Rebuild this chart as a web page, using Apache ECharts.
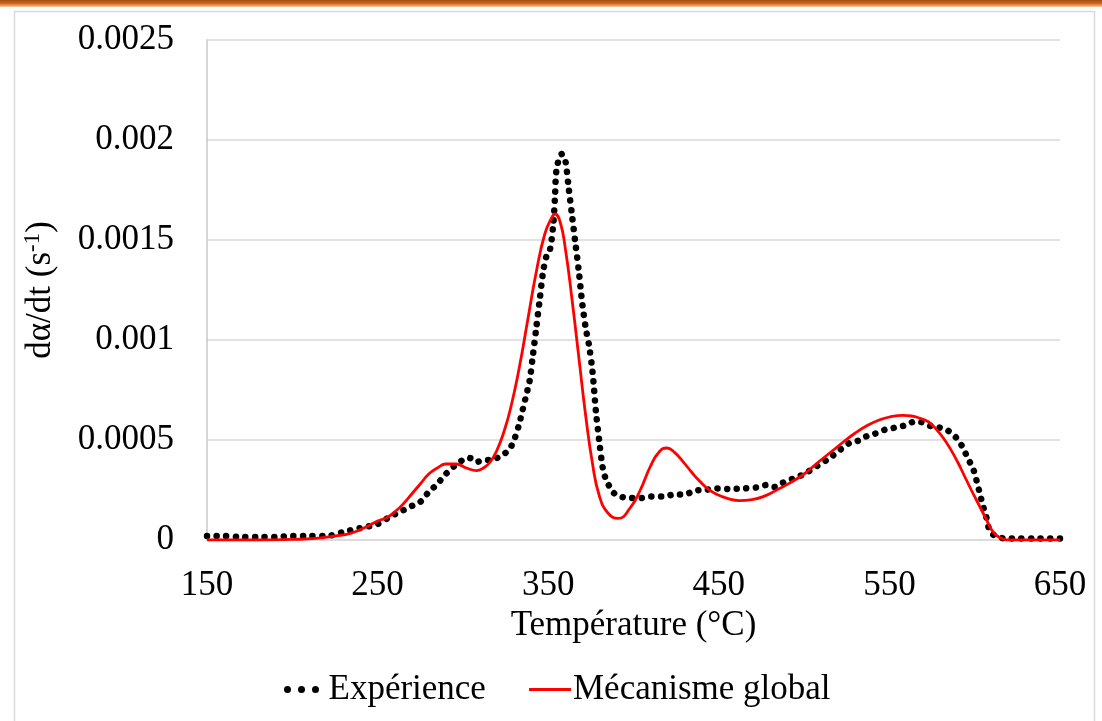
<!DOCTYPE html>
<html>
<head>
<meta charset="utf-8">
<script src="https://cdn.jsdelivr.net/npm/echarts@6/dist/echarts.min.js"></script>
<style>
html,body{margin:0;padding:0;background:#fff;}
#chart{width:1102px;height:721px;}
</style>
</head>
<body>
<div id="chart"></div>
<script>
const xTickLabels = ['150', '250', '350', '450', '550', '650'];
const yTickLabels = ['0', '0.0005', '0.001', '0.0015', '0.002', '0.0025'];

const temperatureExp = [150,160,170,180,190,200,210,220,230,240,250,258,263,270,275,280,285,290,295,300,304,308,312,316,320,324,327,330,333,335,337,339,341,343,345,347,349,351,353,354,355,358,360,362,364,366,368,370,372,374,376,378,380,382,384,388,391,398,404,410,418,424,430,436,442,449,457,464,472,478,483,488,494,500,507,515,521,527,532,537,542,548,554,560,564,568,574,579,583,587,590,593,596,599,601,603,605,607,609,613,618,625,635,650];
const rateExp = [0.00002,0.00002,0.000015,0.000015,0.000015,0.00002,0.00002,0.00002,0.00004,0.00006,0.00008,0.00012,0.00014,0.00017,0.00019,0.00024,0.00028,0.00033,0.00037,0.0004,0.00041,0.00039,0.0004,0.0004,0.00041,0.00043,0.00045,0.0005,0.00058,0.00065,0.00072,0.00079,0.00092,0.00106,0.0012,0.00134,0.00142,0.00145,0.00158,0.00172,0.00186,0.00193,0.0019,0.00176,0.00162,0.00148,0.00134,0.00118,0.00106,0.00097,0.00084,0.00064,0.00049,0.00036,0.0003,0.00024,0.00022,0.00021,0.00021,0.000217,0.000217,0.000228,0.000228,0.000247,0.00025,0.000258,0.000255,0.000258,0.000263,0.000275,0.000265,0.000288,0.000308,0.00033,0.000367,0.00041,0.00045,0.000487,0.000497,0.00052,0.000533,0.000553,0.000563,0.000575,0.00059,0.00059,0.00057,0.000563,0.000553,0.00053,0.000503,0.000463,0.000408,0.000358,0.0003,0.000233,0.000167,0.000108,0.000042,0.000017,0.000008,0.000008,0.000008,0.000008];

const temperatureModel = [150,180,200,214,225,234,242,250,255,260,265,270,275,280,285,290,296,302,308,312,316,320,324,328,333,338,343,348,352,354,357,360,364,368,372,376,380,385,391,398,404,410,415,419.5,424,429,434,439,444,449,455,462,470,476,484,492,500,507,515,523,530,537,544,550,558,563,568,573,578,582,586,590,594,598,601,604,607,610,613,616,619,650];
const rateModel = [0,0,0.000003,0.000008,0.00002,0.000033,0.00006,0.000095,0.00011,0.00014,0.00018,0.00023,0.00028,0.00033,0.00036,0.00038,0.00038,0.00036,0.000347,0.00036,0.00039,0.00045,0.00054,0.00066,0.00086,0.0011,0.00134,0.00153,0.00161,0.00163,0.00159,0.00146,0.0012,0.00091,0.00062,0.00038,0.00022,0.000135,0.000108,0.00016,0.00025,0.00037,0.00044,0.00046,0.000438,0.000392,0.00034,0.000292,0.000253,0.000227,0.000208,0.000197,0.000203,0.000217,0.00025,0.000287,0.00033,0.00038,0.000435,0.00049,0.000535,0.000572,0.0006,0.000615,0.000623,0.00062,0.000608,0.00059,0.000548,0.000505,0.000452,0.00039,0.00032,0.00025,0.0002,0.00015,0.0001,0.00005,0.000022,0.000006,0,0];

const serif = "'Liberation Serif', 'Times New Roman', serif";
const chart = echarts.init(document.getElementById('chart'), null, {renderer: 'canvas'});

const dotsIcon = 'path://M3.5,0A3.5,3.5,0,1,1,3.5,7A3.5,3.5,0,1,1,3.5,0ZM17.5,0A3.5,3.5,0,1,1,17.5,7A3.5,3.5,0,1,1,17.5,0ZM31.5,0A3.5,3.5,0,1,1,31.5,7A3.5,3.5,0,1,1,31.5,0Z';

chart.setOption({
  animation: false,
  backgroundColor: '#ffffff',
  graphic: [
    {
      type: 'rect', z: 100,
      shape: {x: 0, y: 0, width: 1102, height: 7},
      style: {
        fill: new echarts.graphic.LinearGradient(0, 0, 0, 1, [
          {offset: 0, color: '#a34c12'},
          {offset: 0.5, color: '#d2691e'},
          {offset: 1, color: '#f6c9a3'}
        ])
      }
    },
    {
      type: 'rect', z: 100,
      shape: {x: 14.5, y: 11.5, width: 1080, height: 720},
      style: {fill: 'none', stroke: '#d9d9d9', lineWidth: 1.5}
    }
  ],
  grid: {left: 207, right: 42, top: 40, bottom: 181, containLabel: false},
  xAxis: {
    type: 'value',
    min: 150, max: 650, interval: 100,
    name: 'Température (°C)',
    nameLocation: 'middle',
    nameGap: 68,
    nameTextStyle: {fontFamily: serif, fontSize: 35, color: '#000'},
    axisLine: {show: true, onZero: false, lineStyle: {color: '#d9d9d9', width: 1.5}},
    axisTick: {show: false},
    splitLine: {show: false},
    axisLabel: {
      fontFamily: serif, fontSize: 35, color: '#000', margin: 28,
      formatter: function (v) { return xTickLabels[Math.round((v - 150) / 100)]; }
    }
  },
  yAxis: {
    type: 'value',
    min: 0, max: 0.0025, interval: 0.0005,
    name: '{a|dα/dt (s}{sup|-1}{a|)}',
    nameLocation: 'middle',
    nameGap: 146,
    nameRotate: 90,
    nameTextStyle: {
      color: '#000',
      rich: {
        a: {fontFamily: serif, fontSize: 35, color: '#000', lineHeight: 40},
        sup: {fontFamily: serif, fontSize: 23, color: '#000', verticalAlign: 'top', lineHeight: 26}
      }
    },
    axisLine: {show: true, lineStyle: {color: '#c8c8c8', width: 1.5}},
    axisTick: {show: false},
    splitLine: {show: true, lineStyle: {color: '#d9d9d9', width: 1.5}},
    axisLabel: {
      fontFamily: serif, fontSize: 35, color: '#000', margin: 33,
      formatter: function (v) { return yTickLabels[Math.round(v / 0.0005)]; }
    }
  },
  legend: [
    {
      left: 284, top: 672, padding: 0,
      itemWidth: 36, itemHeight: 7,
      textStyle: {fontFamily: serif, fontSize: 35, color: '#000', padding: [0, 0, 0, 4]},
      data: [{name: 'Expérience', icon: dotsIcon, itemStyle: {color: '#000', borderWidth: 0}, lineStyle: {width: 0}}]
    },
    {
      left: 529, top: 672, padding: 0,
      itemWidth: 42, itemHeight: 3,
      textStyle: {fontFamily: serif, fontSize: 35, color: '#000', padding: [0, 0, 0, -3]},
      data: [{name: 'Mécanisme global', icon: 'rect', itemStyle: {color: '#ff0000', borderWidth: 0}, lineStyle: {width: 0}}]
    }
  ],
  series: [
    {
      name: 'Expérience',
      type: 'line',
      data: temperatureExp.map((t, i) => [t, rateExp[i]]),
      smooth: 0.3,
      showSymbol: false,
      symbol: 'none',
      itemStyle: {color: '#000'},
      lineStyle: {color: '#000', width: 6.5, type: [0.1, 9.5], cap: 'round'},
      z: 2
    },
    {
      name: 'Mécanisme global',
      type: 'line',
      data: temperatureModel.map((t, i) => [t, rateModel[i]]),
      smooth: 0.5,
      showSymbol: false,
      symbol: 'none',
      itemStyle: {color: '#ff0000'},
      lineStyle: {color: '#ff0000', width: 2.8},
      z: 3
    }
  ]
});
</script>
</body>
</html>
